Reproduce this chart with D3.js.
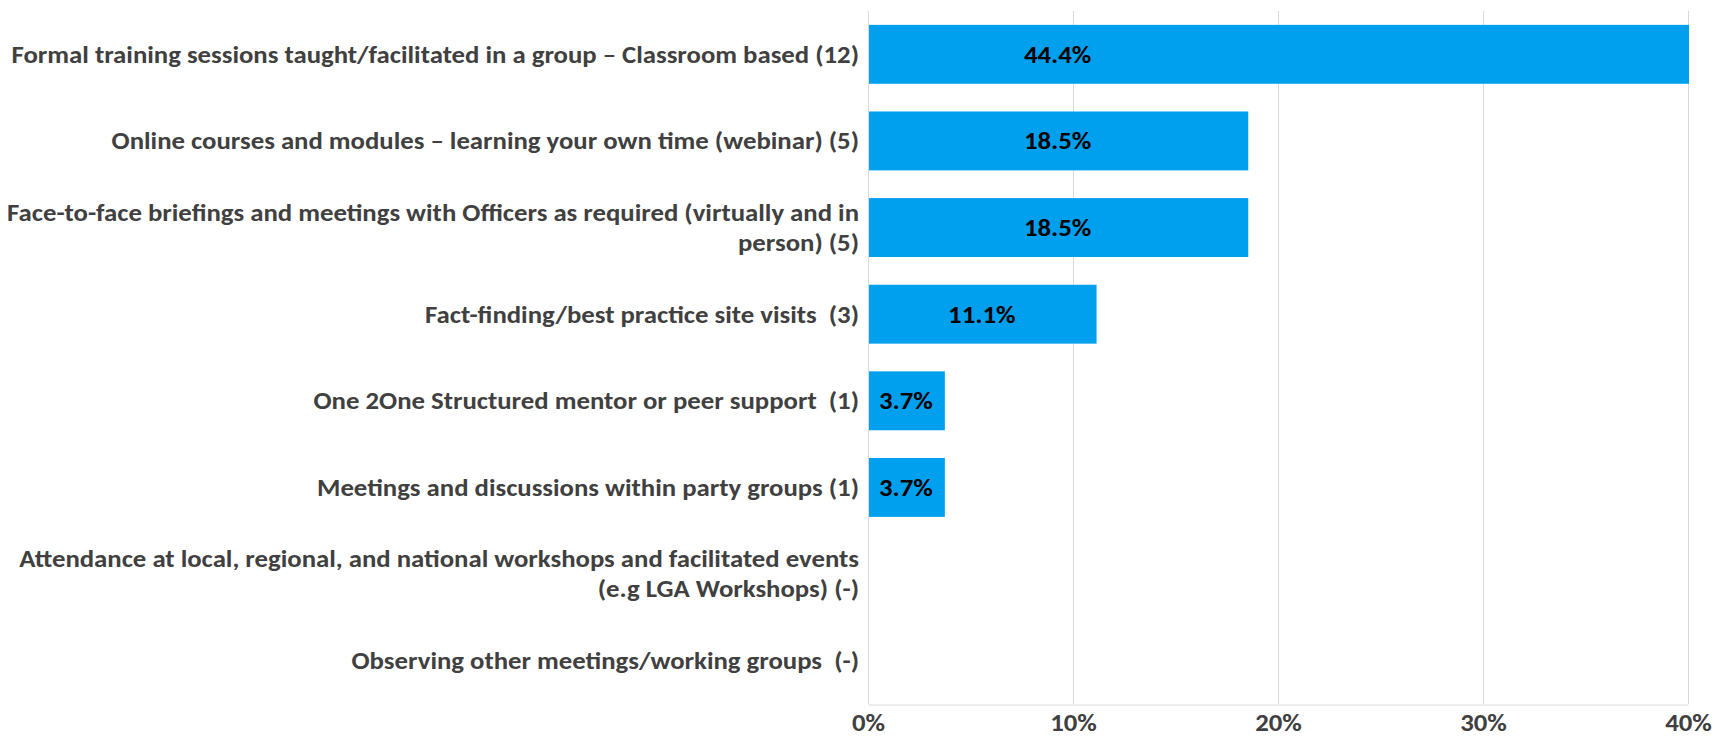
<!DOCTYPE html>
<html>
<head>
<meta charset="utf-8">
<script src="https://cdn.jsdelivr.net/npm/d3@7"></script>
<style>
  body { margin: 0; background: #fff; }
  svg text { font-family: Calibri, Carlito, "Liberation Sans Narrow", "Open Sans", sans-serif; font-weight: bold; white-space: pre; }
</style>
</head>
<body>
<div id="chart"></div>
<script>
// categories, top to bottom ("\n" = line break in the label)
var categories = [
  "Formal training sessions taught/facilitated in a group \u2013 Classroom based (12)",
  "Online courses and modules \u2013 learning your own time (webinar) (5)",
  "Face-to-face briefings and meetings with Officers as required (virtually and in\nperson) (5)",
  "Fact-finding/best practice site visits  (3)",
  "One 2One Structured mentor or peer support  (1)",
  "Meetings and discussions within party groups (1)",
  "Attendance at local, regional, and national workshops and facilitated events\n(e.g LGA Workshops) (-)",
  "Observing other meetings/working groups  (-)"
];
var values = [44.4, 18.5, 18.5, 11.1, 3.7, 3.7, 0, 0];
var xTicks = [0, 10, 20, 30, 40];

var width = 1715, height = 739;
var margin = {top: 11, right: 27, bottom: 35, left: 868};

var svg = d3.select("#chart").append("svg")
  .attr("width", width)
  .attr("height", height);

var x = d3.scaleLinear()
  .domain([0, 40])
  .range([margin.left, width - margin.right]);

var y = d3.scaleBand()
  .domain(categories)
  .range([margin.top, height - margin.bottom])
  .paddingInner(0.32)
  .paddingOuter(0.16);

// category labels (drawn first to work out the squeeze factor)
var labels = svg.append("g")
  .selectAll("text")
  .data(categories)
  .join("text")
  .attr("text-anchor", "end")
  .attr("fill", "#404040")
  .style("font-size", "24px");

labels.each(function(d) {
  var lines = d.split("\n");
  var t = d3.select(this);
  var cy = y(d) + y.bandwidth() / 2;
  var lh = 30;
  lines.forEach(function(line, j) {
    t.append("tspan")
      .attr("x", 0)
      .attr("y", cy + (j - (lines.length - 1) / 2) * lh)
      .attr("dy", "0.35em")
      .text(line);
  });
});

// squeeze horizontally so the longest line matches the original width (narrow font look)
var w0 = labels.nodes()[0].getComputedTextLength();
var k = 848 / w0;
labels.attr("transform", "translate(" + (margin.left - 9) + ",0) scale(" + k + ",1)");

// gridlines
svg.insert("g", ":first-child")
  .selectAll("line")
  .data(xTicks)
  .join("line")
  .attr("x1", function(d) { return x(d) + 0.5; })
  .attr("x2", function(d) { return x(d) + 0.5; })
  .attr("y1", margin.top)
  .attr("y2", height - margin.bottom)
  .attr("stroke", "#d9d9d9")
  .attr("stroke-width", 1);

// bottom axis
var xAxis = svg.append("g")
  .attr("transform", "translate(0," + (height - margin.bottom + 0.5) + ")")
  .call(d3.axisBottom(x).tickValues(xTicks).tickSize(0)
    .tickFormat(function(d) { return d + "%"; }));
xAxis.select(".domain").attr("stroke", "#d9d9d9");
xAxis.selectAll("text")
  .attr("fill", "#404040")
  .attr("y", 27)
  .attr("dy", null)
  .attr("transform", "scale(" + k + ",1)")
  .style("font-size", "24px");

// bars (clipped at the axis max like the original)
svg.append("g")
  .selectAll("rect")
  .data(values)
  .join("rect")
  .attr("x", x(0) + 1)
  .attr("y", function(d, i) { return y(categories[i]); })
  .attr("width", function(d) { return d > 0 ? x(Math.min(d, 40)) - x(0) : 0; })
  .attr("height", y.bandwidth())
  .attr("fill", "#00a0ef");

// data labels; an overflowing bar keeps its label where the next bar's label sits
svg.append("g")
  .selectAll("text")
  .data(values)
  .join("text")
  .filter(function(d) { return d > 0; })
  .attr("transform", function(d, i) {
    var v = d > 40 ? values[i + 1] : d;
    var cy = y(categories[i]) + y.bandwidth() / 2;
    return "translate(" + x(v / 2) + "," + cy + ") scale(" + k + ",1)";
  })
  .attr("dy", "0.35em")
  .attr("text-anchor", "middle")
  .attr("fill", "#000")
  .style("font-size", "24px")
  .text(function(d) { return d.toFixed(1) + "%"; });
</script>
</body>
</html>
